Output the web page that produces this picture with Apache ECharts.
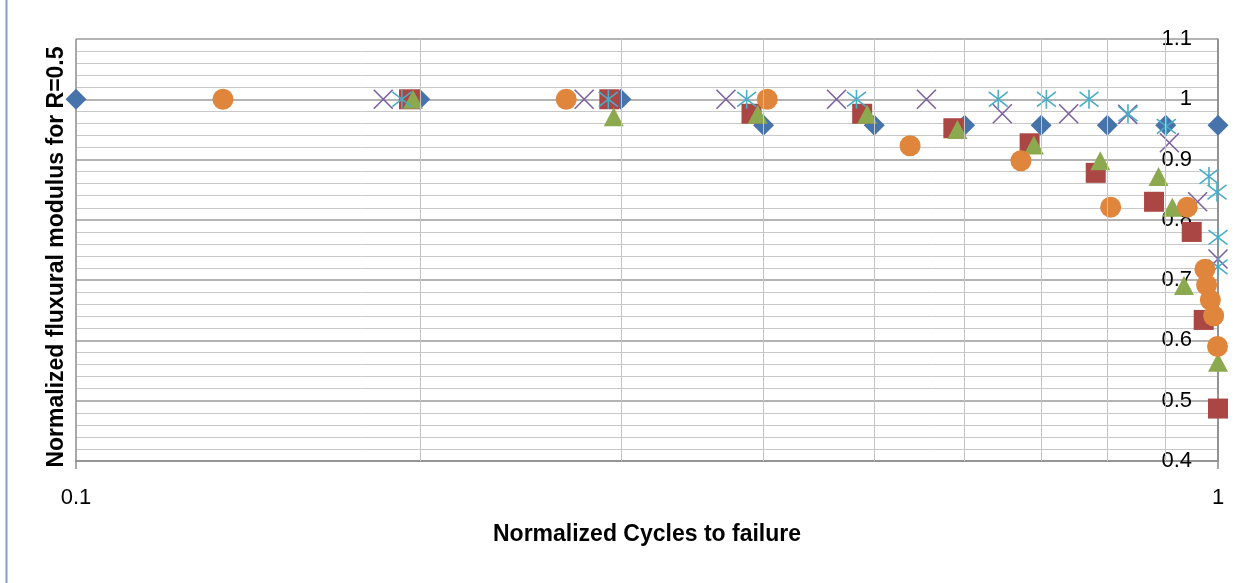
<!DOCTYPE html>
<html>
<head>
<meta charset="utf-8">
<script src="https://cdn.jsdelivr.net/npm/echarts@6/dist/echarts.min.js"></script>
<style>
html,body{margin:0;padding:0;background:#fff;}
#chart{width:1252px;height:583px;}
</style>
</head>
<body>
<div id="chart"></div>
<script>
// ---- data ----
const diamondX = [0.1, 0.2, 0.3, 0.4, 0.5, 0.6, 0.7, 0.8, 0.9, 1.0];
const diamondY = [1, 1, 1, 0.957, 0.957, 0.957, 0.957, 0.957, 0.957, 0.957];

const squareX = [0.1957, 0.2931, 0.3904, 0.488, 0.5865, 0.684, 0.7815, 0.879, 0.9484, 0.9716, 1.0];
const squareY = [1, 1, 0.976, 0.976, 0.952, 0.927, 0.878, 0.830, 0.780, 0.634, 0.487];

const triangleX = [0.1973, 0.2957, 0.3953, 0.493, 0.5913, 0.6899, 0.7887, 0.887, 0.912, 0.9337, 1.0];
const triangleY = [1, 0.971, 0.975, 0.975, 0.950, 0.924, 0.898, 0.872, 0.821, 0.691, 0.564];

const crossX = [0.1858, 0.2786, 0.3708, 0.4634, 0.5555, 0.6474, 0.74, 0.8336, 0.9066, 0.9598, 1.0];
const crossY = [1, 1, 1, 1, 1, 0.976, 0.976, 0.975, 0.928, 0.830, 0.735];

const starX = [0.1929, 0.2925, 0.3866, 0.4824, 0.6421, 0.7075, 0.771, 0.834, 0.9011, 0.982, 0.998, 1.0, 1.0];
const starY = [1, 1, 1, 1, 1, 1, 1, 0.976, 0.955, 0.872, 0.846, 0.771, 0.722];

const circleX = [0.1345, 0.2687, 0.403, 0.5375, 0.6721, 0.8054, 0.9399, 0.974, 0.9773, 0.9847, 0.9913, 0.999];
const circleY = [1, 1, 1, 0.923, 0.898, 0.821, 0.821, 0.718, 0.692, 0.667, 0.641, 0.590];

const minorXGrid = [0.2, 0.3, 0.4, 0.5, 0.6, 0.7, 0.8, 0.9];
const xTitle = 'Normalized Cycles to failure';
const yTitle = 'Normalized fluxural modulus for R=0.5';

// ---- build ----
function pairs(xs, ys) { return xs.map((x, i) => [x, ys[i]]); }
const FONT = '"Liberation Sans", Arial, sans-serif';
const crossPath = 'path://M0,0L10,10M10,0L0,10';
const starPath = 'path://M0,0L10,10M10,0L0,10M5,-1.5L5,11.5';

const chart = echarts.init(document.getElementById('chart'), null, {renderer: 'canvas'});
const option = {
  animation: false,
  backgroundColor: '#ffffff',
  grid: {left: 76, right: 34, top: 39, bottom: 122, containLabel: false},
  xAxis: {
    type: 'log', logBase: 10, min: 0.1, max: 1,
    axisLine: {show: true, lineStyle: {color: '#8c8c8c', width: 1.5}},
    axisTick: {show: true, length: 8, lineStyle: {color: '#8c8c8c', width: 1.5}},
    axisLabel: {show: true, fontSize: 22, color: '#000', fontFamily: FONT, margin: 26},
    splitLine: {show: true, lineStyle: {color: '#8c8c8c', width: 1.5}}
  },
  yAxis: {
    type: 'value', min: 0.4, max: 1.1, interval: 0.1, position: 'right',
    axisLine: {show: true, lineStyle: {color: '#8c8c8c', width: 1.5}},
    axisTick: {show: false},
    axisLabel: {show: true, inside: true, margin: 26, fontSize: 22, color: '#000', fontFamily: FONT},
    splitLine: {show: true, lineStyle: {color: '#9a9a9a', width: 1.5}},
    minorTick: {show: false, splitNumber: 5},
    minorSplitLine: {show: true, lineStyle: {color: '#c8c8c8', width: 1}}
  },
  graphic: [
    {type: 'line', shape: {x1: 6.5, y1: 0, x2: 6.5, y2: 583}, style: {stroke: '#7ba0cd', lineWidth: 2}, silent: true},
    {type: 'text', x: 647, y: 535, silent: true,
     style: {text: xTitle, font: 'bold 23px ' + FONT, fill: '#000', textAlign: 'center', textVerticalAlign: 'middle'}},
    {type: 'text', x: 57, y: 257, rotation: Math.PI / 2, silent: true,
     style: {text: yTitle, font: 'bold 23px ' + FONT, fill: '#000', textAlign: 'center', textVerticalAlign: 'middle'}}
  ],
  series: [
    {type: 'scatter', name: 'grid', data: [], z: 1, silent: true,
     markLine: {silent: true, symbol: ['none', 'none'], label: {show: false}, animation: false,
       lineStyle: {color: '#c4c4c4', width: 1, type: 'solid'},
       emphasis: {disabled: true},
       data: minorXGrid.map(v => ({xAxis: v}))}},
    {type: 'scatter', name: 'diamond', z: 3, symbol: 'diamond', symbolSize: 21,
     itemStyle: {color: '#4674aa', opacity: 1}, data: pairs(diamondX, diamondY)},
    {type: 'scatter', name: 'square', z: 3, symbol: 'rect', symbolSize: 20,
     itemStyle: {color: '#aa4643', opacity: 1}, data: pairs(squareX, squareY)},
    {type: 'scatter', name: 'triangle', z: 3, symbol: 'triangle', symbolSize: [20, 19],
     itemStyle: {color: '#8ca94f', opacity: 1}, data: pairs(triangleX, triangleY)},
    {type: 'scatter', name: 'cross', z: 3, symbol: crossPath, symbolSize: 19,
     itemStyle: {color: '#7d60a0', borderColor: '#7d60a0', borderWidth: 1.6, opacity: 1}, data: pairs(crossX, crossY)},
    {type: 'scatter', name: 'star', z: 3, symbol: starPath, symbolSize: 19,
     itemStyle: {color: '#4bacc6', borderColor: '#4bacc6', borderWidth: 1.6, opacity: 1}, data: pairs(starX, starY)},
    {type: 'scatter', name: 'circle', z: 3, symbol: 'circle', symbolSize: 21,
     itemStyle: {color: '#e0853c', opacity: 1}, data: pairs(circleX, circleY)}
  ]
};
chart.setOption(option);
</script>
</body>
</html>
